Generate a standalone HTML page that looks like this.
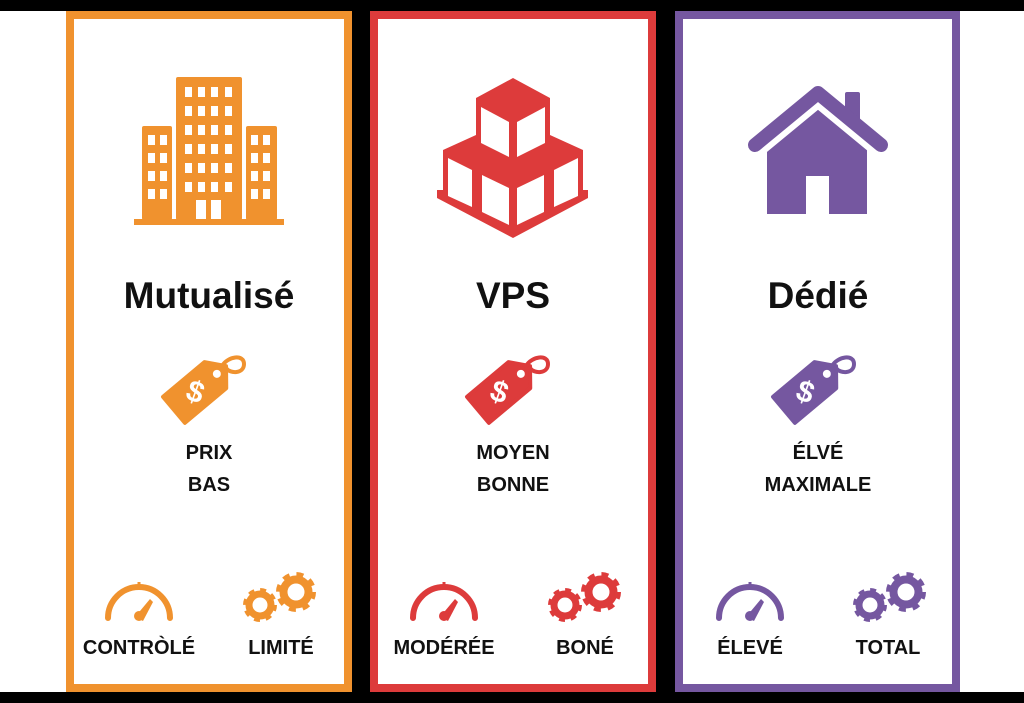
<!DOCTYPE html>
<html><head><meta charset="utf-8"><style>
html,body{margin:0;padding:0;width:1024px;height:703px;overflow:hidden;background:#fff}
svg{display:block}
text{font-family:"Liberation Sans",sans-serif;font-weight:bold;fill:#111;text-anchor:middle}
</style></head><body>
<svg width="1024" height="703" viewBox="0 0 1024 703" xmlns="http://www.w3.org/2000/svg">
<defs>
<g id="gauge">
  <path d="M-31,0 A31,31 0 0 1 31,0" fill="none" stroke="currentColor" stroke-width="6" stroke-linecap="round"/>
  <rect x="-1.5" y="-36" width="3" height="7" fill="currentColor"/>
  <path d="M-4,-1 L11,-19 L14,-16 L4,3 Z" fill="currentColor"/>
  <circle cx="0" cy="-2" r="5" fill="currentColor"/>
</g>
<g id="gears">
  <g transform="translate(-20,13)">
    <circle r="11" fill="none" stroke="currentColor" stroke-width="7"/>
    <circle r="14" fill="none" stroke="currentColor" stroke-width="6" stroke-dasharray="5.5 5.5"/>
  </g>
  <g transform="translate(16,0)">
    <circle r="12.5" fill="none" stroke="currentColor" stroke-width="8"/>
    <circle r="17" fill="none" stroke="currentColor" stroke-width="6" stroke-dasharray="6.7 6.7"/>
  </g>
</g>
<g id="pricetag">
  <g transform="rotate(-40)">
    <path d="M-34,-17 L20,-17 L34,0 L20,17 L-34,17 Z" fill="currentColor" stroke="currentColor" stroke-width="4" stroke-linejoin="round"/>
    <circle cx="22" cy="0" r="4" fill="#fff"/>
    <text x="-6" y="10" transform="rotate(60 -6 0)" style="fill:#fff;font-size:30px">$</text>
  </g>
  <path d="M22,-22 C28,-32 44,-34 44,-24 C44,-14 30,-14 26,-20" fill="none" stroke="currentColor" stroke-width="4" stroke-linecap="round"/>
</g>
</defs>

<rect x="0" y="0" width="1024" height="11" fill="#000"/>
<rect x="0" y="692" width="1024" height="11" fill="#000"/>
<rect x="352" y="11" width="18" height="681" fill="#000"/>
<rect x="656" y="11" width="19" height="681" fill="#000"/>

<rect x="70" y="15" width="278" height="673" fill="#fff" stroke="#F0922E" stroke-width="8"/>
<rect x="374" y="15" width="278" height="673" fill="#fff" stroke="#DD3B3B" stroke-width="8"/>
<rect x="679" y="15" width="277" height="673" fill="#fff" stroke="#7557A0" stroke-width="8"/>

<!-- building -->
<g fill="#F0922E">
  <rect x="176" y="77" width="66" height="143" rx="2"/>
  <rect x="142" y="126" width="30" height="94" rx="2"/>
  <rect x="246" y="126" width="31" height="94" rx="2"/>
  <rect x="134" y="219" width="150" height="6"/>
</g>
<g fill="#fff">
  <g id="wrow">
  <rect x="185" y="87" width="7" height="10"/><rect x="198" y="87" width="7" height="10"/><rect x="211" y="87" width="7" height="10"/><rect x="225" y="87" width="7" height="10"/>
  </g>
  <use href="#wrow" y="19"/><use href="#wrow" y="38"/><use href="#wrow" y="57"/><use href="#wrow" y="76"/><use href="#wrow" y="95"/>
  <rect x="196" y="200" width="10" height="19"/><rect x="211" y="200" width="10" height="19"/>
  <g id="lrow"><rect x="148" y="135" width="7" height="10"/><rect x="160" y="135" width="7" height="10"/></g>
  <use href="#lrow" y="18"/><use href="#lrow" y="36"/><use href="#lrow" y="54"/>
  <g id="rrow"><rect x="251" y="135" width="7" height="10"/><rect x="263" y="135" width="7" height="10"/></g>
  <use href="#rrow" y="18"/><use href="#rrow" y="36"/><use href="#rrow" y="54"/>
</g>

<!-- cubes -->
<polygon fill="#DD3B3B" points="476,98 513,78 550,98 550,135 583,150 583,190 588,190 588,198 513,238 437,198 437,190 443,190 443,150 476,135"/>
<g fill="#fff">
  <polygon points="481,107 509,122 509,157 481,143"/>
  <polygon points="517,122 545,107 545,143 517,157"/>
  <polygon points="448,158 472,170 472,207 448,196"/>
  <polygon points="482,175 509,188 509,225 482,212"/>
  <polygon points="517,188 544,175 544,212 517,225"/>
  <polygon points="554,170 578,158 578,196 554,207"/>
</g>

<!-- house -->
<g fill="#7557A0">
  <path d="M767,140 L818,100 L867,140 L867,214 L829,214 L829,176 L806,176 L806,214 L767,214 Z"/>
  <path d="M755,145 L818,93 L881,145" fill="none" stroke="#fff" stroke-width="26" stroke-linejoin="round"/>
  <rect x="845" y="92" width="15" height="30" rx="2"/>
  <path d="M755,145 L818,93 L881,145" fill="none" stroke="#7557A0" stroke-width="14" stroke-linecap="round" stroke-linejoin="round"/>
</g>

<text x="209" y="308" style="font-size:37px">Mutualisé</text>
<text x="513" y="308" style="font-size:37px">VPS</text>
<text x="818" y="308" style="font-size:37px">Dédié</text>

<use href="#pricetag" x="200" y="388" style="color:#F0922E"/>
<use href="#pricetag" x="504" y="388" style="color:#DD3B3B"/>
<use href="#pricetag" x="810" y="388" style="color:#7557A0"/>

<g style="font-size:20px">
<text x="209" y="459">PRIX</text><text x="209" y="491">BAS</text>
<text x="513" y="459">MOYEN</text><text x="513" y="491">BONNE</text>
<text x="818" y="459">ÉLVÉ</text><text x="818" y="491">MAXIMALE</text>
</g>

<use href="#gauge" x="139" y="618" style="color:#F0922E"/>
<use href="#gauge" x="444" y="618" style="color:#DD3B3B"/>
<use href="#gauge" x="750" y="618" style="color:#7557A0"/>
<use href="#gears" x="280" y="592" style="color:#F0922E"/>
<use href="#gears" x="585" y="592" style="color:#DD3B3B"/>
<use href="#gears" x="890" y="592" style="color:#7557A0"/>

<g style="font-size:20px">
<text x="139" y="654">CONTRÒLÉ</text><text x="281" y="654">LIMITÉ</text>
<text x="444" y="654">MODÉRÉE</text><text x="585" y="654">BONÉ</text>
<text x="750" y="654">ÉLEVÉ</text><text x="888" y="654">TOTAL</text>
</g>
</svg>
</body></html>
